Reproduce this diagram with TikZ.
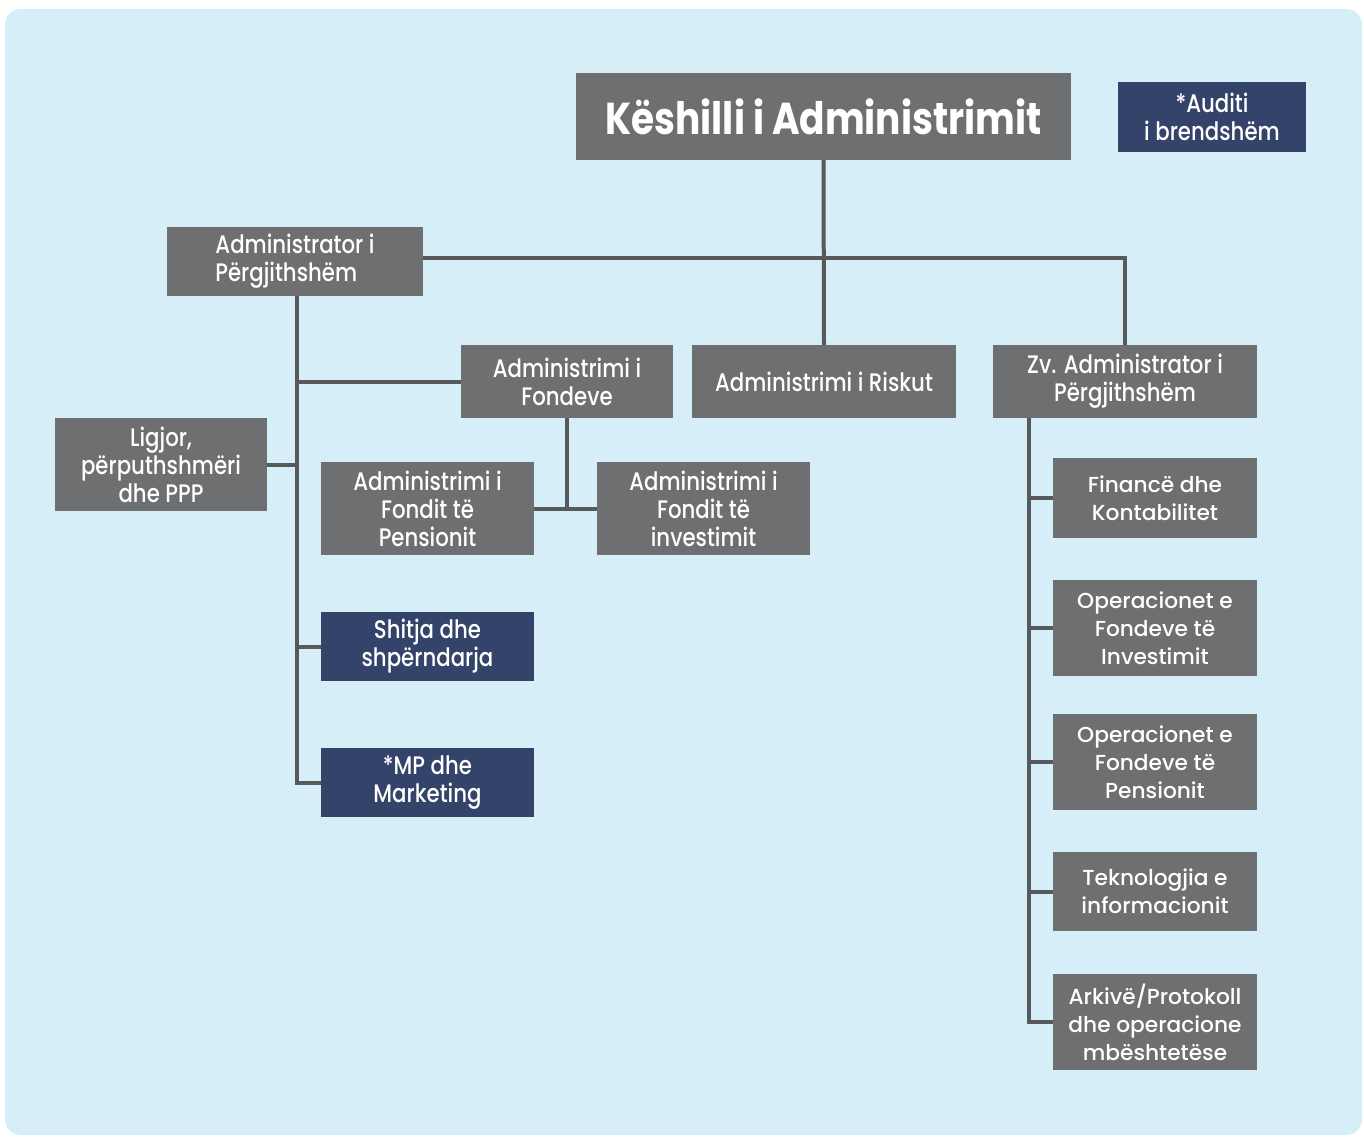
\documentclass[tikz,border=0pt]{standalone}
\usepackage{fontspec}
\setmainfont{Poppins}
\IfFontExistsTF{Poppins Medium}{%
  \newfontfamily\narrowfont[FakeStretch=0.84]{Poppins Medium}%
  \newfontfamily\widefont{Poppins Medium}%
}{%
  \newfontfamily\narrowfont[FakeStretch=0.84,FakeBold=0.6]{Poppins}%
  \newfontfamily\widefont[FakeBold=0.6]{Poppins}%
}
\newfontfamily\titlefont[FakeStretch=0.84]{Poppins}
\definecolor{bgblue}{HTML}{D6EEF8}
\definecolor{boxgray}{HTML}{6E6F71}
\definecolor{boxnavy}{HTML}{334369}
\definecolor{linegray}{HTML}{58595B}
\tikzset{
  orgbase/.style={inner sep=0pt, outer sep=0pt, align=center, text=white},
  graybox/.style={orgbase, fill=boxgray, font=\narrowfont\fontsize{19}{21}\selectfont},
  navybox/.style={orgbase, fill=boxnavy, font=\narrowfont\fontsize{19}{21}\selectfont},
  rightbox/.style={orgbase, fill=boxgray, font=\widefont\fontsize{16.3}{21}\selectfont},
  titlebox/.style={orgbase, fill=boxgray, font=\titlefont\bfseries\fontsize{33.5}{36}\selectfont},
  conn/.style={draw=linegray, line width=3pt, line join=miter}
}
\newcommand\orgbox[7]{\node[#6, minimum width={(#4-#2)*0.75pt}, minimum height={(#5-#3)*0.75pt}] (#1) at ({(#2+#4)/2},{(#3+#5)/2}) {#7};}
\begin{document}
\begin{tikzpicture}[x=0.75pt, y=-0.75pt]
\useasboundingbox (0,0) rectangle (1364,1136);
\fill[bgblue, rounded corners=12pt] (5,9) rectangle (1362,1135);
\orgbox{title}{576}{73}{1071}{160}{titlebox}{Këshilli i Administrimit}
\orgbox{audit}{1118}{82}{1306}{152}{navybox}{*Auditi\\i brendshëm}
\orgbox{gm}{167}{227}{423}{296}{graybox,align=left}{Administrator i\\Përgjithshëm}
\orgbox{fondeve}{461}{345}{673}{418}{graybox}{Administrimi i\\Fondeve}
\orgbox{risk}{692}{345}{956}{418}{graybox}{Administrimi i Riskut}
\orgbox{zv}{993}{345}{1257}{418}{graybox}{Zv. Administrator i\\Përgjithshëm}
\orgbox{ligjor}{55}{418}{267}{511}{graybox}{Ligjor,\\përputhshmëri\\dhe PPP}
\orgbox{pens}{321}{462}{534}{555}{graybox}{Administrimi i\\Fondit të\\Pensionit}
\orgbox{inv}{597}{462}{810}{555}{graybox}{Administrimi i\\Fondit të\\investimit}
\orgbox{shitja}{321}{612}{534}{681}{navybox}{Shitja dhe\\shpërndarja}
\orgbox{mp}{321}{748}{534}{817}{navybox}{*MP dhe\\Marketing}
\orgbox{fin}{1053}{458}{1257}{538}{rightbox}{Financë dhe\\Kontabilitet}
\orgbox{opinv}{1053}{580}{1257}{676}{rightbox}{Operacionet e\\Fondeve të\\Investimit}
\orgbox{oppens}{1053}{714}{1257}{810}{rightbox}{Operacionet e\\Fondeve të\\Pensionit}
\orgbox{tek}{1053}{852}{1257}{931}{rightbox}{Teknologjia e\\informacionit}
\orgbox{arch}{1053}{974}{1257}{1070}{rightbox}{Arkivë/Protokoll\\dhe operacione\\mbështetëse}
\coordinate (zvtap) at ([xshift=27pt]zv.south west);
\coordinate (gmtap) at ([xshift=1.5pt]gm.south);
\coordinate (gmright) at ([yshift=2.6pt]gm.east);
\draw[conn] (title.south) -- (risk.north);
\draw[conn] (gmright) -- (gmright -| zv.north) -- (zv.north);
\draw[conn] (gmtap) -- (gmtap |- mp.west) -- (mp.west);
\draw[conn] (gmtap |- fondeve.west) -- (fondeve.west);
\draw[conn] (ligjor.east) -- (ligjor.east -| gmtap);
\draw[conn] (gmtap |- shitja.west) -- (shitja.west);
\draw[conn] (fondeve.south) -- (fondeve.south |- pens.east);
\draw[conn] (pens.east) -- (inv.west);
\draw[conn] (zvtap) -- (zvtap |- arch.west) -- (arch.west);
\draw[conn] (zvtap |- fin.west) -- (fin.west);
\draw[conn] (zvtap |- opinv.west) -- (opinv.west);
\draw[conn] (zvtap |- oppens.west) -- (oppens.west);
\draw[conn] (zvtap |- tek.west) -- (tek.west);
\end{tikzpicture}
\end{document}
